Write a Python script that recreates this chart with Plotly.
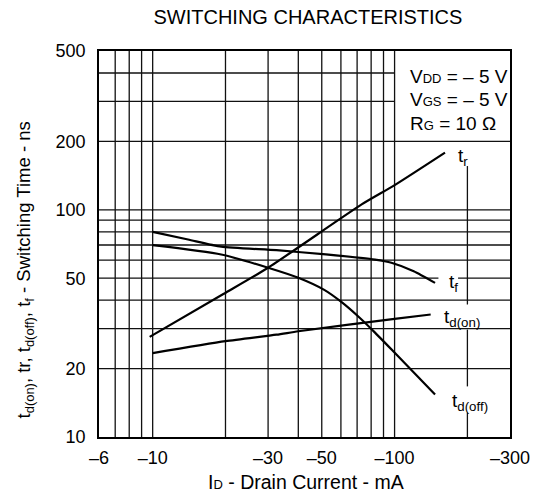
import math
import plotly.graph_objects as go

# ---------------- data ----------------
tr_x = [9.72, 19.6, 30, 73.1, 99.7, 161.6]
tr_y = [27.6, 42.6, 55.6, 105.6, 128.1, 178.5]

tf_x = [10, 14, 19.2, 32.5, 52, 83, 97, 120, 147]
tf_y = [80, 74, 68.8, 66.4, 63.6, 60.4, 58.5, 53.7, 47.7]

tdoff_x = [10, 19.2, 30, 40, 51.2, 60.6, 70.8, 82.2, 99.7, 147]
tdoff_y = [69.9, 63.6, 55.6, 50.2, 44.4, 39.1, 33.9, 29.1, 23.6, 15.4]

tdon_x = [10, 20, 32.5, 40, 100, 141]
tdon_y = [23.4, 26.4, 28.2, 29.2, 33.1, 34.6]

x_tickvals = [6, 10, 30, 50, 100, 300]
x_ticktext = ["–6", "–10", "–30", "–50", "–100", "–300"]
y_tickvals = [10, 20, 50, 100, 200, 500]
y_ticktext = ["10", "20", "50", "100", "200", "500"]

grid_x = [7, 8, 9, 10, 20, 30, 40, 50, 60, 70, 80, 90, 100, 200]
grid_y = [20, 30, 40, 50, 60, 70, 80, 90, 100, 200, 300, 400]

X_MIN, X_MAX = 6, 300
Y_MIN, Y_MAX = 10, 500

# segments for gridlines that are interrupted by labels / the condition box
vert_segments = {200: [(10, 12.8), (16.7, 29.7), (38.3, 155.8)]}
horiz_segments = {400: [(6, 100)], 300: [(6, 100)], 50: [(6, 151.8), (183, 300)]}

FONT = "Liberation Sans, Arial, sans-serif"

fig = go.Figure()

# gridlines (drawn as line traces on the log axes)
gx, gy = [], []
for xv in grid_x:
    for (a, b) in vert_segments.get(xv, [(Y_MIN, Y_MAX)]):
        gx += [xv, xv, None]
        gy += [a, b, None]
for yv in grid_y:
    for (a, b) in horiz_segments.get(yv, [(X_MIN, X_MAX)]):
        gx += [a, b, None]
        gy += [yv, yv, None]
fig.add_trace(go.Scatter(x=gx, y=gy, mode="lines",
                         line=dict(color="#111111", width=1.3),
                         hoverinfo="skip", showlegend=False))

curve_style = dict(color="black", width=2.2, shape="spline", smoothing=0.6)
for xs, ys, nm in [(tr_x, tr_y, "tr"), (tf_x, tf_y, "tf"),
                   (tdoff_x, tdoff_y, "td(off)"), (tdon_x, tdon_y, "td(on)")]:
    fig.add_trace(go.Scatter(x=xs, y=ys, mode="lines", name=nm,
                             line=curve_style, showlegend=False))

# plot-area pixel helpers for annotations (paper coords)
W, H = 542, 501
L, R, T, B = 99, 518, 51, 437
def px(xp):
    return (xp - L) / (R - L)
def py(yp):
    return (B - yp) / (B - T)

ann = []
def add(text, xp, yp, size=19, xanchor="left", angle=0):
    ann.append(dict(text=text, x=px(xp), y=py(yp), xref="paper", yref="paper",
                    xanchor=xanchor, yanchor="middle", showarrow=False,
                    textangle=angle, font=dict(family=FONT, size=size, color="black")))

sm = "<span style='font-size:13px'>%s</span>"
add("V" + sm % "DD" + " = – 5 V", 414, 76)
add("V" + sm % "GS" + " = – 5 V", 414, 99.5)
add("R" + sm % "G" + " = 10 Ω", 414, 123)

add("t<sub>r</sub>", 463, 157)
add("t<sub>f</sub>", 454, 283)
add("t<sub>d(on)</sub>", 449, 318)
add("t<sub>d(off)</sub>", 457, 402)

add("I" + sm % "D" + " - Drain Current - mA", 310, 482, size=19.5, xanchor="center")
add("t<sub>d(on)</sub>, tr, t<sub>d(off)</sub>, t<sub>f</sub> - Switching Time - ns",
    24, 270, size=18.5, xanchor="center", angle=-90)

fig.update_layout(
    width=W, height=H,
    margin=dict(l=L, r=W - R, t=T, b=H - B),
    paper_bgcolor="white", plot_bgcolor="white",
    title=dict(text="SWITCHING CHARACTERISTICS", x=px(312), xref="paper",
               y=1 - 16.5 / H, yref="container", xanchor="center", yanchor="middle",
               font=dict(family=FONT, size=20, color="black")),
    annotations=ann,
    font=dict(family=FONT, color="black"),
    hovermode=False,
)
fig.update_xaxes(type="log", range=[math.log10(X_MIN), math.log10(X_MAX)],
                 tickvals=x_tickvals, ticktext=x_ticktext, showgrid=False,
                 zeroline=False, showline=True, mirror=True, linecolor="black",
                 linewidth=1.6, ticks="", tickfont=dict(family=FONT, size=18),
                 ticklabelstandoff=4)
fig.update_yaxes(type="log", range=[math.log10(Y_MIN), math.log10(Y_MAX)],
                 tickvals=y_tickvals, ticktext=y_ticktext, showgrid=False,
                 zeroline=False, showline=True, mirror=True, linecolor="black",
                 linewidth=1.6, ticks="", tickfont=dict(family=FONT, size=18),
                 ticklabelstandoff=8)

fig.write_html("out.html",
               config={"displayModeBar": False},
               post_script="document.body.style.margin='0px';document.body.style.overflow='hidden';")
